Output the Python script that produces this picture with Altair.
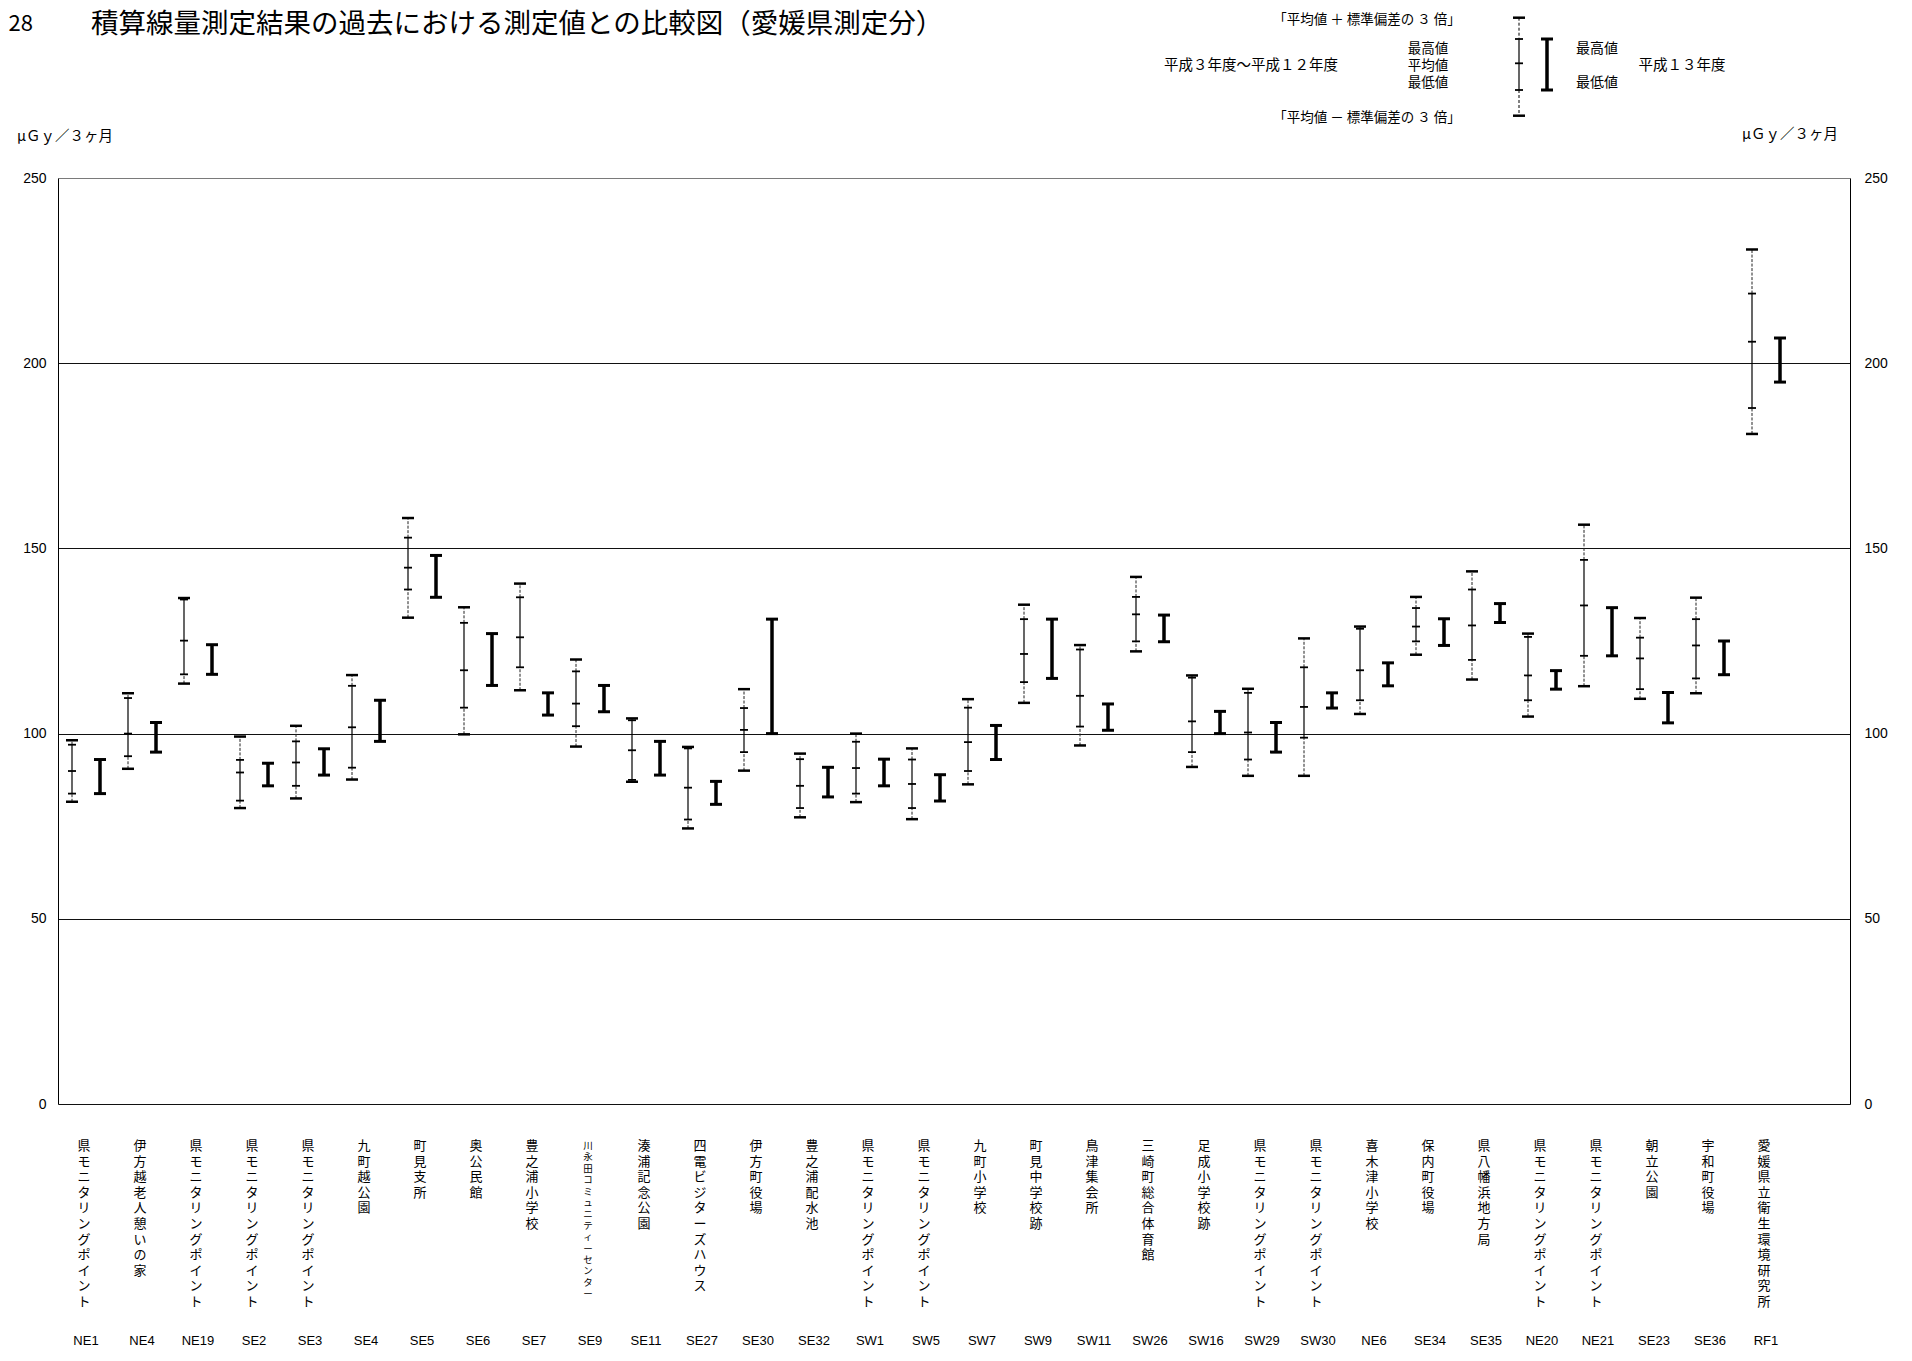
import altair as alt
import pandas as pd

# ---------------- data ----------------
codes = ["NE1", "NE4", "NE19", "SE2", "SE3", "SE4", "SE5", "SE6", "SE7", "SE9",
         "SE11", "SE27", "SE30", "SE32", "SW1", "SW5", "SW7", "SW9", "SW11", "SW26",
         "SW16", "SW29", "SW30", "NE6", "SE34", "SE35", "NE20", "NE21", "SE23", "SE36", "RF1"]
names = ["県モニタリングポイント", "伊方越老人憩いの家", "県モニタリングポイント", "県モニタリングポイント",
         "県モニタリングポイント", "九町越公園", "町見支所", "奥公民館", "豊之浦小学校",
         "川永田コミュニティーセンター", "湊浦記念公園", "四電ビジターズハウス", "伊方町役場",
         "豊之浦配水池", "県モニタリングポイント", "県モニタリングポイント", "九町小学校",
         "町見中学校跡", "鳥津集会所", "三崎町総合体育館", "足成小学校跡", "県モニタリングポイント",
         "県モニタリングポイント", "喜木津小学校", "保内町役場", "県八幡浜地方局",
         "県モニタリングポイント", "県モニタリングポイント", "朝立公園", "宇和町役場",
         "愛媛県立衛生環境研究所"]

# 平成3年度～平成12年度
upper3 = [98.2, 110.9, 136.6, 99.2, 102.1, 115.8, 158.2, 134.1, 140.5, 120.0,
          104.1, 96.4, 112.0, 94.6, 100.0, 96.0, 109.3, 134.8, 123.9, 142.3,
          115.7, 112.1, 125.7, 128.9, 136.9, 143.8, 127.0, 156.4, 131.2, 136.7, 230.7]
old_max = [97.0, 109.6, 136.2, 92.9, 97.9, 112.9, 152.9, 129.9, 136.8, 116.8,
           103.6, 96.0, 106.9, 93.1, 97.8, 93.0, 107.0, 130.9, 122.7, 136.9,
           115.1, 111.0, 117.9, 128.3, 133.9, 138.9, 126.1, 146.9, 125.9, 130.9, 218.8]
old_mean = [89.9, 100.0, 125.1, 89.5, 92.2, 101.7, 144.8, 117.1, 126.0, 108.1,
            95.5, 85.4, 101.0, 85.9, 90.7, 86.4, 97.7, 121.5, 110.2, 132.2,
            103.3, 100.3, 107.2, 117.1, 128.9, 129.2, 115.7, 134.6, 120.3, 123.8, 205.8]
old_min = [83.8, 93.9, 116.0, 81.9, 85.9, 90.8, 138.9, 107.0, 117.9, 102.0,
           87.5, 76.8, 95.0, 79.9, 83.8, 79.9, 89.9, 113.9, 101.9, 124.9,
           95.0, 93.0, 98.9, 109.0, 124.9, 119.9, 109.0, 121.0, 112.0, 114.9, 187.9]
lower3 = [81.6, 90.5, 113.5, 79.9, 82.5, 87.6, 131.3, 99.8, 111.7, 96.5,
          87.0, 74.4, 90.0, 77.4, 81.5, 76.9, 86.3, 108.3, 96.8, 122.2,
          91.0, 88.6, 88.6, 105.3, 121.3, 114.6, 104.6, 112.8, 109.4, 110.9, 180.9]
# 平成13年度
new_max = [93.0, 103.0, 124.0, 92.0, 95.9, 109.0, 148.1, 127.0, 111.0, 113.0,
           97.9, 87.1, 130.9, 90.9, 93.1, 88.9, 102.2, 130.9, 108.0, 132.0,
           106.0, 103.0, 111.0, 119.1, 131.0, 135.1, 117.0, 134.0, 111.1, 125.0, 206.8]
new_min = [83.8, 95.0, 116.0, 85.9, 88.8, 97.9, 136.8, 113.0, 105.0, 105.9,
           88.8, 80.9, 100.0, 82.9, 85.9, 81.8, 93.0, 114.9, 100.9, 124.8,
           100.0, 95.0, 106.9, 112.9, 123.8, 130.0, 112.0, 121.0, 102.9, 115.9, 194.9]

y_ticks = [0, 50, 100, 150, 200, 250]

df = pd.DataFrame({
    "code": codes, "name": names, "u3": upper3, "mx": old_max, "mean": old_mean,
    "mn": old_min, "l3": lower3, "nmax": new_max, "nmin": new_min,
})
df["lab"] = ["\n".join(n) for n in names]

W, H = 1792, 926
JP = "Noto Sans CJK JP"
LAT = "Liberation Sans"

xscale = alt.Scale(domain=codes + [" "], paddingInner=0, paddingOuter=0)
yscale = alt.Scale(domain=[0, 250], nice=False)
offscale = alt.Scale(domain=["old", "new"], paddingInner=0, paddingOuter=0)

x_axis = alt.Axis(orient="top", offset=-H, bandPosition=0, labels=False, domain=False,
                  ticks=True, tickSize=5, tickColor="#000", tickWidth=1, grid=False, title=None)
left_axis = alt.Axis(orient="left", values=y_ticks, grid=True,
                     gridColor={"condition": {"test": "datum.value == 250", "value": "#7a7a7a"},
                                "value": "#111111"},
                     gridWidth=1, ticks=False, domain=True, domainColor="#000", domainWidth=1,
                     labelFont=LAT, labelFontSize=14, labelColor="#000", labelPadding=12, title=None)
right_axis = alt.Axis(orient="right", values=y_ticks, grid=False, ticks=False, domain=True,
                      domainColor="#000", domainWidth=1, labelFont=LAT, labelFontSize=14,
                      labelColor="#000", labelPadding=14, title=None)

Xn = alt.X("code:N", scale=xscale, axis=None)
base = alt.Chart(df)
old = base.transform_calculate(s="'old'")
new = base.transform_calculate(s="'new'")
XO = alt.XOffset("s:N", scale=offscale)

old_solid = old.mark_rule(color="#000", strokeWidth=1.2).encode(
    x=alt.X("code:N", scale=xscale, axis=x_axis), xOffset=XO,
    y=alt.Y("mn:Q", scale=yscale, axis=left_axis), y2="mx:Q")
old_up = old.mark_rule(color="#222", strokeWidth=1, strokeDash=[3, 1.5]).encode(
    x=Xn, xOffset=XO, y=alt.Y("mx:Q", scale=yscale, axis=None), y2="u3:Q")
old_dn = old.mark_rule(color="#222", strokeWidth=1, strokeDash=[3, 1.5]).encode(
    x=Xn, xOffset=XO, y=alt.Y("l3:Q", scale=yscale, axis=None), y2="mn:Q")
old_caps = old.transform_fold(["u3", "l3"], as_=["k", "v"]).mark_tick(
    color="#000", size=12, thickness=2.5, opacity=1).encode(
    x=Xn, xOffset=XO, y=alt.Y("v:Q", scale=yscale, axis=None))
old_ticks = old.transform_fold(["mx", "mean", "mn"], as_=["k", "v"]).mark_tick(
    color="#000", size=8, thickness=1.8, opacity=1).encode(
    x=Xn, xOffset=XO, y=alt.Y("v:Q", scale=yscale, axis=None))
new_bar = new.mark_rule(color="#000", strokeWidth=3.5).encode(
    x=Xn, xOffset=XO, y=alt.Y("nmin:Q", scale=yscale, axis=right_axis), y2="nmax:Q")
new_caps = new.transform_fold(["nmax", "nmin"], as_=["k", "v"]).mark_tick(
    color="#000", size=12, thickness=3, opacity=1).encode(
    x=Xn, xOffset=XO, y=alt.Y("v:Q", scale=yscale, axis=None))

lab_main = base.transform_filter("datum.code != 'SE9'").mark_text(
    lineBreak="\n", baseline="top", align="center", font=JP, fontSize=13,
    lineHeight=15.6, color="#000", dx=-2).encode(x=Xn, y=alt.value(962), text="lab:N")
lab_se9 = base.transform_filter("datum.code == 'SE9'").mark_text(
    lineBreak="\n", baseline="top", align="center", font=JP, fontSize=9.5,
    lineHeight=11.4, color="#000", dx=-2).encode(x=Xn, y=alt.value(963), text="lab:N")
code_txt = base.mark_text(font="Liberation Sans Narrow, Liberation Sans", fontSize=13,
                          baseline="middle", align="center", color="#000").encode(
    x=Xn, y=alt.value(1163), text="code:N")

one = pd.DataFrame({"k": [0]})


def txt(t, x, y, size=14, align="center", font=JP):
    return alt.Chart(one).mark_text(text=t, font=font, fontSize=size, align=align,
                                    baseline="middle", color="#000").encode(
        x=alt.value(x), y=alt.value(y))


def seg(x, y, x2=None, y2=None, w=1.0, dash=None):
    kw = {"color": "#000", "strokeWidth": w}
    if dash:
        kw["strokeDash"] = dash
    enc = {"x": alt.value(x), "y": alt.value(y)}
    if x2 is not None:
        enc["x2"] = alt.value(x2)
    if y2 is not None:
        enc["y2"] = alt.value(y2)
    return alt.Chart(one).mark_rule(**kw).encode(**enc)


# legend geometry (pixels relative to plot origin)
lx, nx = 1461, 1489
yu, ymx, ymean, ymn, yl = -160.3, -139, -114.7, -88, -62.3
legend = [
    seg(lx, yu, y2=ymx, w=1, dash=[3, 2]),
    seg(lx, ymn, y2=yl, w=1, dash=[3, 2]),
    seg(lx, ymx, y2=ymn, w=1.2),
    seg(lx - 6, yu, x2=lx + 6, w=2.5),
    seg(lx - 6, yl, x2=lx + 6, w=2.5),
    seg(lx - 4, ymx, x2=lx + 4, w=1.8),
    seg(lx - 4, ymean, x2=lx + 4, w=1.8),
    seg(lx - 4, ymn, x2=lx + 4, w=1.8),
    seg(nx, ymx, y2=ymn, w=3.5),
    seg(nx - 6, ymx, x2=nx + 6, w=3),
    seg(nx - 6, ymn, x2=nx + 6, w=3),
    txt("「平均値 ＋ 標準偏差の ３ 倍」", 1309, -158, 13.5),
    txt("「平均値 － 標準偏差の ３ 倍」", 1309, -60, 13.5),
    txt("平成３年度～平成１２年度", 1193, -112, 14.5),
    txt("最高値", 1370, -129, 13.5),
    txt("平均値", 1370, -112, 13.5),
    txt("最低値", 1370, -95, 13.5),
    txt("最高値", 1539, -129, 14),
    txt("最低値", 1539, -95, 14),
    txt("平成１３年度", 1624, -112, 14.5),
    txt("μＧｙ／３ヶ月", -41, -41, 14.5, align="left"),
    txt("μＧｙ／３ヶ月", 1684, -43, 14.5, align="left"),
    txt("図28", -25, -154, 22, align="right"),
    txt("積算線量測定結果の過去における測定値との比較図（愛媛県測定分）", 33, -153.5, 27.5, align="left"),
]

chart = alt.layer(
    old_solid, old_up, old_dn, old_caps, old_ticks, new_bar, new_caps,
    lab_main, lab_se9, code_txt, *legend
).resolve_axis(y="independent").properties(
    width=W, height=H,
    padding={"left": 50, "top": 170, "right": 50, "bottom": 243},
    autosize=alt.AutoSizeParams(type="none"),
    background="white",
).configure_view(strokeWidth=0)

chart.save("out.html", embed_options={"renderer": "svg", "actions": False})
